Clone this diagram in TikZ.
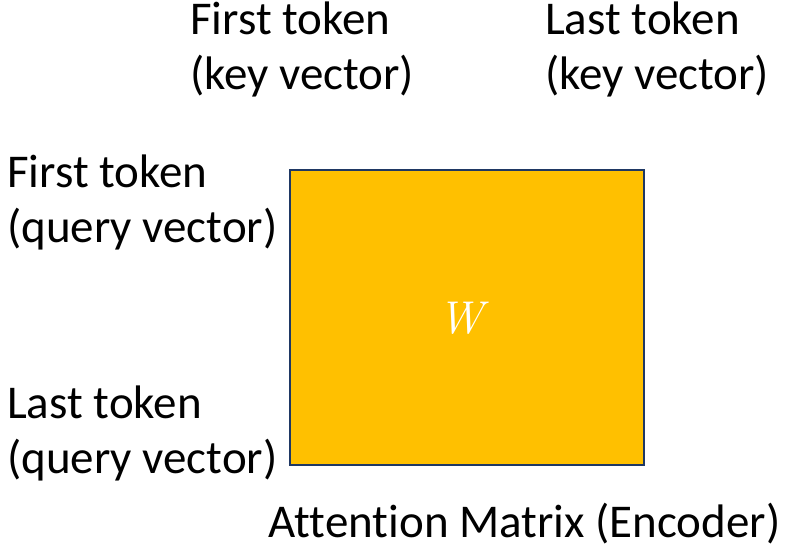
\documentclass[tikz,border=0pt]{standalone}
\usepackage{fontspec}
\setmainfont{Carlito}[Ligatures=NoCommon]
\newfontfamily\symbolfont{Latin Modern Roman}
\definecolor{matfill}{HTML}{FFC000}
\definecolor{matedge}{HTML}{1F3864}
\begin{document}
\begin{tikzpicture}[x=1pt,y=-1pt,
  lbl/.style={anchor=base west,inner sep=0pt,font=\fontsize{47}{55}\selectfont},
  matrixbox/.style={draw=matedge,fill=matfill,line width=2pt,inner sep=0pt,
    minimum width=354pt,minimum height=295pt}]
  \useasboundingbox (0,0) rectangle (794,548);
  % attention matrix
  \node[matrixbox] (mat) at (467,317.5) {};
  \node[text=white,inner sep=0pt,font=\symbolfont\itshape\fontsize{46}{50}\selectfont] (w) at (461,318) {W};
  % key labels (columns)
  \node[lbl] (kf1) at (190,35) {First token};
  \node[lbl] (kf2) at (190,90) {(key vector)};
  \node[lbl] (kl1) at (545,35) {Last token};
  \node[lbl] (kl2) at (545,90) {(key vector)};
  % query labels (rows)
  \node[lbl] (qf1) at (7,187) {First token};
  \node[lbl] (qf2) at (7,242) {(query vector)};
  \node[lbl] (ql1) at (7,418) {Last token};
  \node[lbl] (ql2) at (7,473) {(query vector)};
  % caption (kern keeps the two t's apart)
  \node[lbl] (cap) at (268,537) {At\kern0pt tention Matrix (Encoder)};
\end{tikzpicture}
\end{document}
